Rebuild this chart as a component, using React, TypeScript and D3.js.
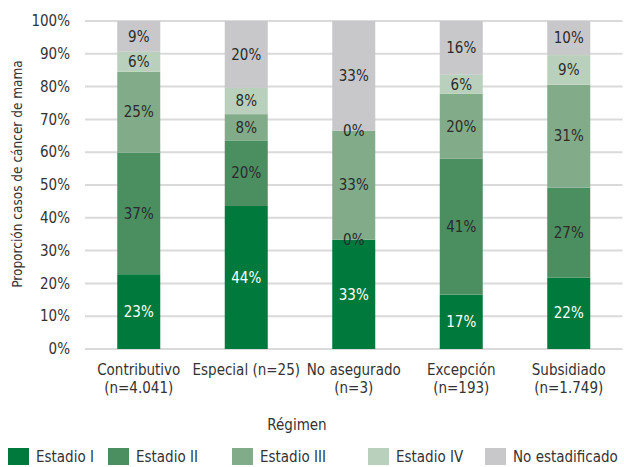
import * as d3 from 'd3';
import * as React from 'react';

const regimenes = ['Contributivo', 'Especial', 'No asegurado', 'Excepción', 'Subsidiado'];
const regimenLines = [
    ['Contributivo', '(n=4.041)'],
    ['Especial (n=25)'],
    ['No asegurado', '(n=3)'],
    ['Excepción', '(n=193)'],
    ['Subsidiado', '(n=1.749)'],
];
const estadios = ['Estadio I', 'Estadio II', 'Estadio III', 'Estadio IV', 'No estadificado'];
const estadio1 = [22.8, 43.6, 33.3, 16.6, 21.8];
const estadio2 = [37.1, 20.0, 0, 41.4, 27.4];
const estadio3 = [24.6, 8.0, 33.3, 19.8, 31.4];
const estadio4 = [6.1, 8.0, 0, 5.8, 9.0];
const noEstadificado = [9.4, 20.4, 33.4, 16.4, 10.4];
const yTicks = [0, 10, 20, 30, 40, 50, 60, 70, 80, 90, 100];

const colors = ['#00793d', '#4b8f61', '#82ab8a', '#b9d1bc', '#c8c8cb'];
const labelColors = ['#ffffff', '#2b2b2b', '#2b2b2b', '#2b2b2b', '#2b2b2b'];
const legendX = [8, 108, 232, 368, 485];

const font = '"DejaVu Sans Condensed", "Liberation Sans Narrow", sans-serif';

export default function App() {
    const width = 624;
    const height = 467;
    const left = 85;
    const right = 622.5;

    const series = [estadio1, estadio2, estadio3, estadio4, noEstadificado];
    const table = regimenes.map((r, i) => {
        const row: Record<string, any> = {regimen: r};
        estadios.forEach((e, j) => { row[e] = series[j][i]; });
        return row;
    });
    const stacked = d3.stack<any>().keys(estadios)(table);

    const x = d3.scaleBand<string>()
        .domain(regimenes)
        .range([left, right])
        .paddingInner(0.6)
        .paddingOuter(0.3);

    const y = d3.scaleLinear()
        .domain([0, 100])
        .range([349, 21]);

    const cx = (i: number) => (x(regimenes[i]) as number) + x.bandwidth() / 2;

    return (
        <svg width={width} height={height} style={{position: 'absolute', left: 0, top: 0}} fontFamily={font}>
            <g className='grid'>
                {yTicks.map((t) => (
                    <line key={t} x1={left} x2={right} y1={y(t)} y2={y(t)} stroke='#dadada' strokeWidth={2} />
                ))}
            </g>
            <g className='y-axis'>
                {yTicks.map((t) => (
                    <text key={t} x={70} y={y(t)} dy='0.35em' textAnchor='end' fontSize={15} fill='#333'>{t}%</text>
                ))}
                <text transform='translate(22,174) rotate(-90)' textAnchor='middle' fontSize={13.5} fill='#333'>
                    Proporción casos de cáncer de mama
                </text>
            </g>
            {stacked.map((s, j) => (
                <g key={s.key}>
                    {s.map((d, i) => (
                        <rect key={i} x={x(regimenes[i])} width={x.bandwidth()} y={y(d[1])} height={y(d[0]) - y(d[1])} fill={colors[j]} />
                    ))}
                </g>
            ))}
            {stacked.map((s, j) => (
                <g key={s.key + '-labels'}>
                    {s.map((d, i) => (
                        <text key={i} x={cx(i)} y={y((d[0] + d[1]) / 2)} dy='0.35em'
                            textAnchor='middle' fontSize={15} fill={labelColors[j]}>
                            {Math.round(d[1] - d[0])}%
                        </text>
                    ))}
                </g>
            ))}
            <g className='x-axis'>
                {regimenLines.map((lines, i) => (
                    <text key={i} x={cx(i)} y={375} textAnchor='middle' fontSize={15} fill='#333'>
                        {lines.map((l, k) => (
                            <tspan key={k} x={cx(i)} dy={k === 0 ? 0 : 18}>{l}</tspan>
                        ))}
                    </text>
                ))}
                <text x={297} y={430} textAnchor='middle' fontSize={15} fill='#333'>Régimen</text>
            </g>
            <g className='legend'>
                {estadios.map((e, i) => (
                    <g key={e} transform={`translate(${legendX[i]},448)`}>
                        <rect width={21} height={17} fill={colors[i]} />
                        <text x={28} y={14} fontSize={15} fill='#333'>{e}</text>
                    </g>
                ))}
            </g>
        </svg>
    );
}
